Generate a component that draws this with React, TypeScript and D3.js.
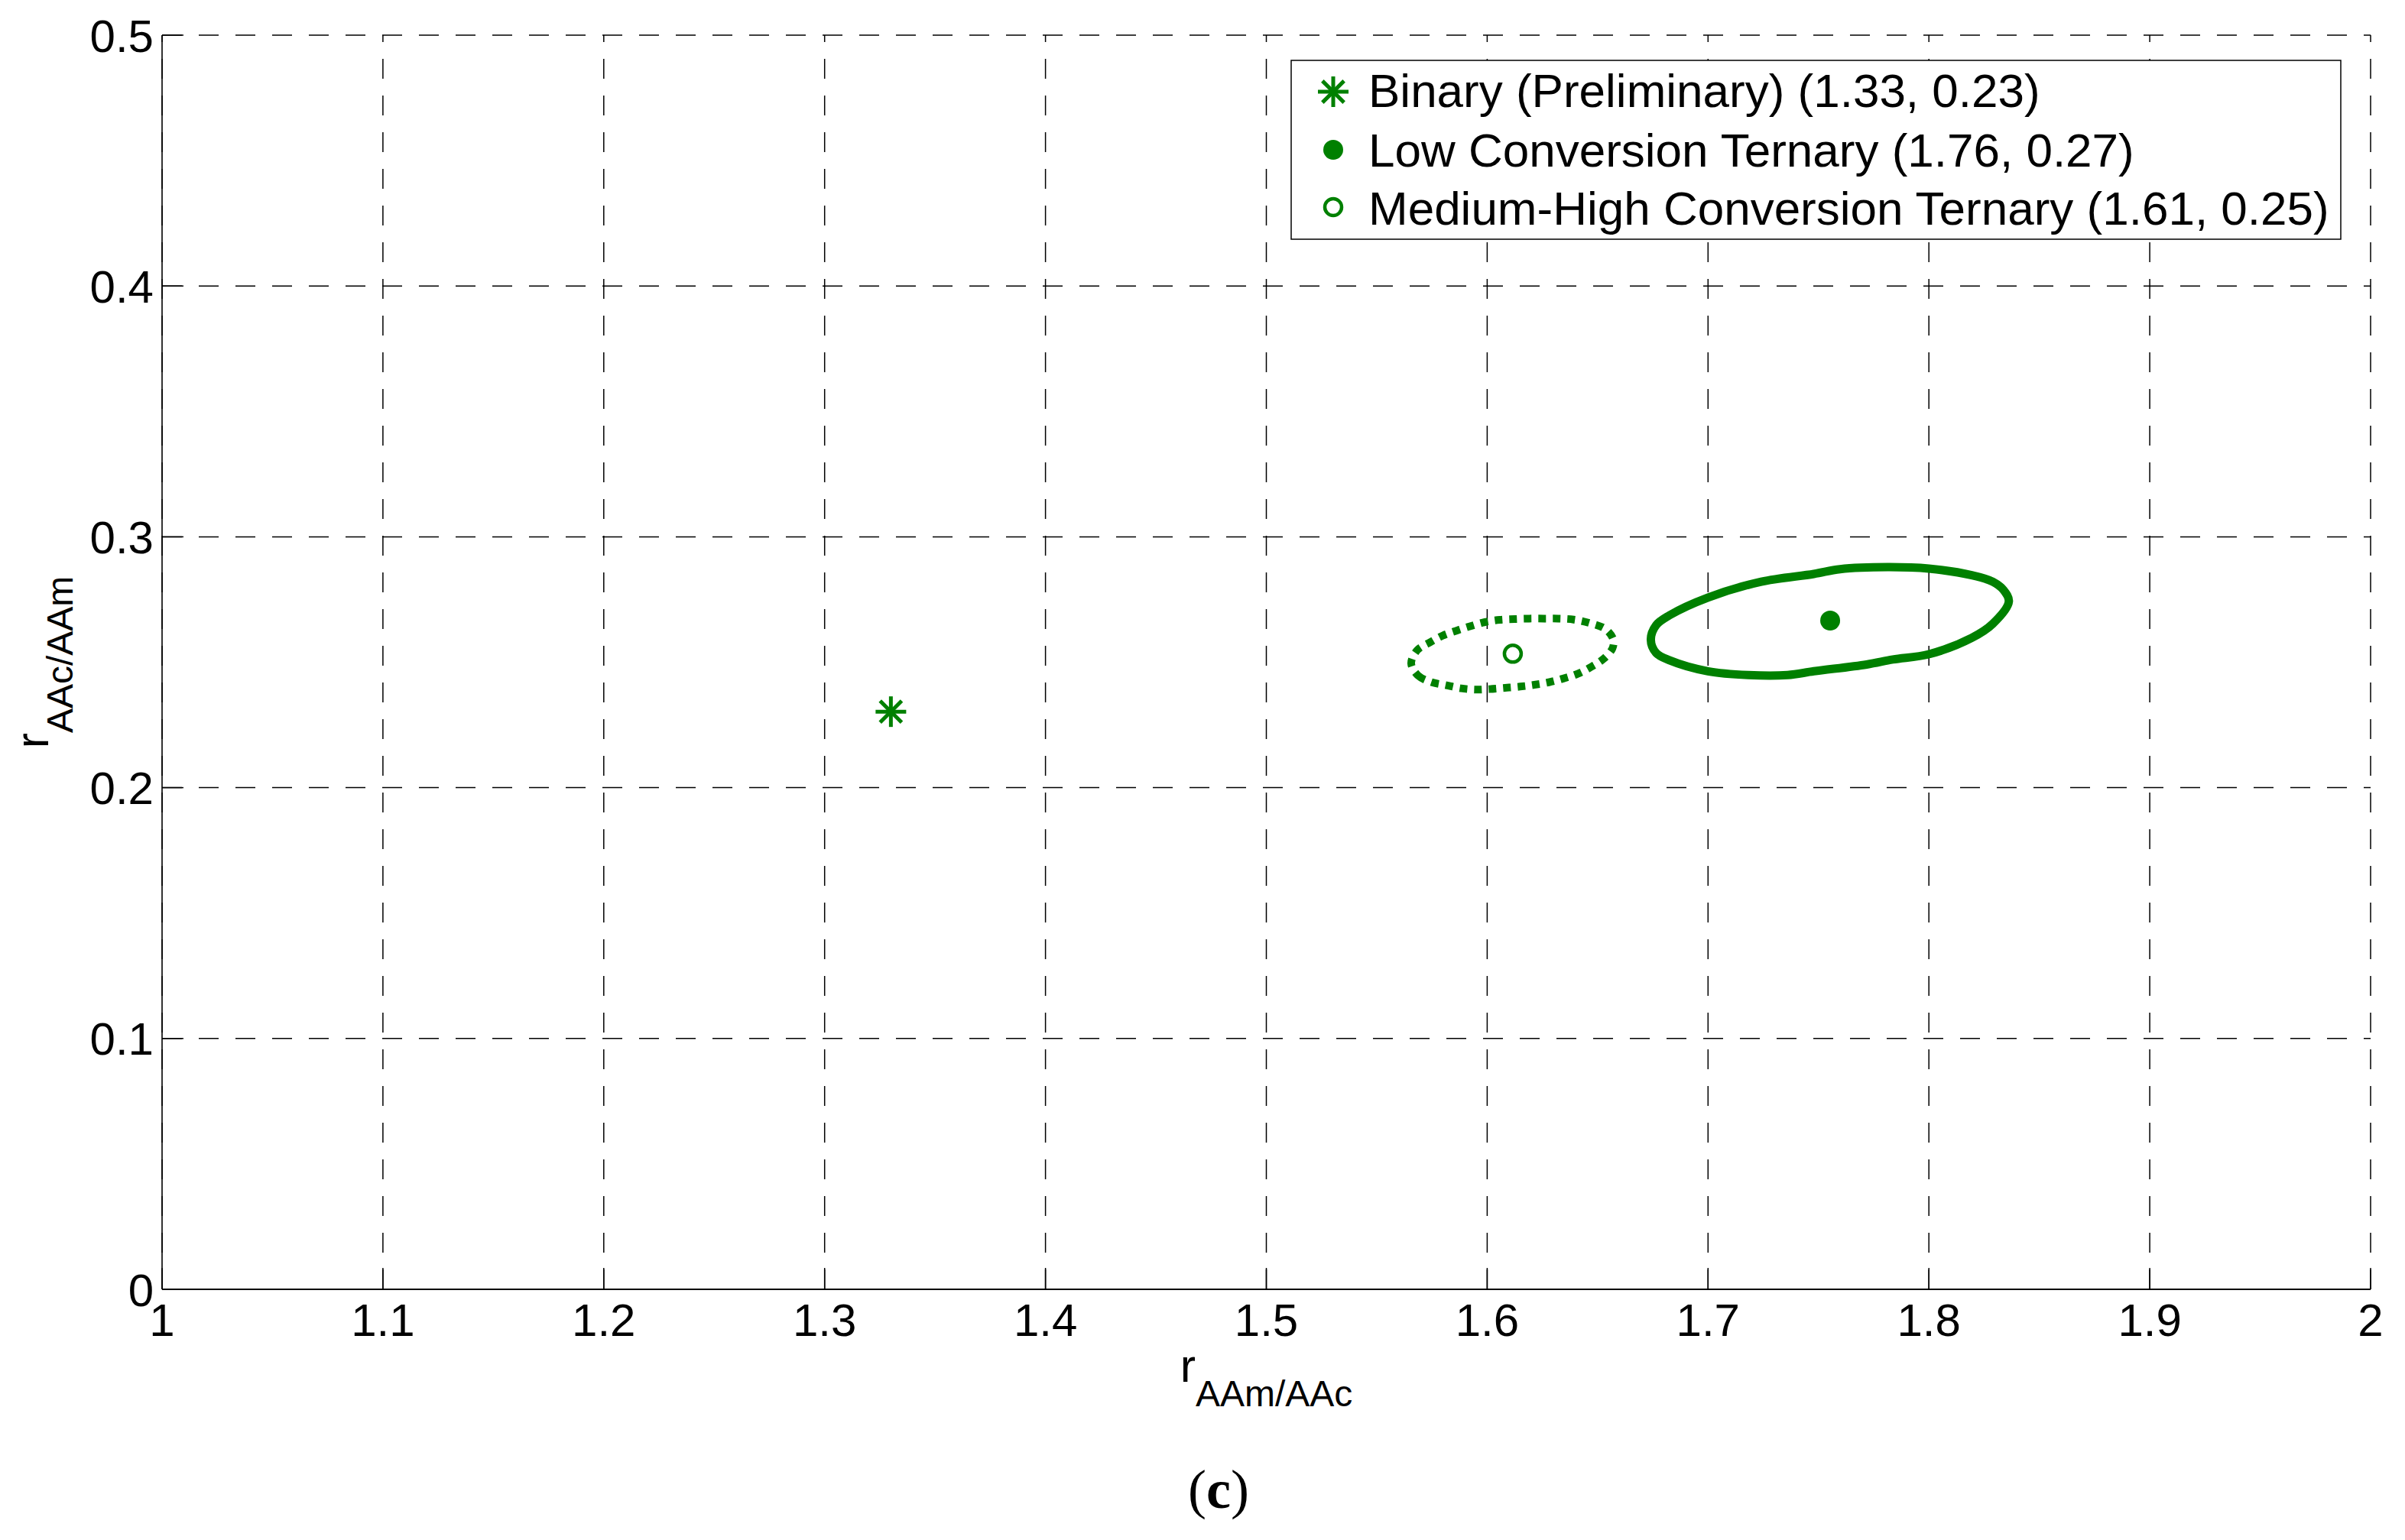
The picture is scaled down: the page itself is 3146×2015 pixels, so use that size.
import React from "react";
import * as d3 from "d3";

const W = 3146;
const H = 2015;

const xTicks = [1, 1.1, 1.2, 1.3, 1.4, 1.5, 1.6, 1.7, 1.8, 1.9, 2];
const xTickLabels = ["1", "1.1", "1.2", "1.3", "1.4", "1.5", "1.6", "1.7", "1.8", "1.9", "2"];
const yTicks = [0, 0.1, 0.2, 0.3, 0.4, 0.5];
const yTickLabels = ["0", "0.1", "0.2", "0.3", "0.4", "0.5"];

const binaryPoint: [number, number] = [1.33, 0.2303];
const lowPoint: [number, number] = [1.7553, 0.2666];
const medHighPoint: [number, number] = [1.6116, 0.2534];

// joint confidence region, low conversion ternary (solid)
const lowRegion: [number, number][] = [
  [1.6741, 0.259], [1.6765, 0.2537], [1.6825, 0.2508], [1.7, 0.2464],
  [1.7182, 0.2449], [1.736, 0.2449], [1.7479, 0.2464], [1.7718, 0.2491],
  [1.7837, 0.2511], [1.8, 0.2532], [1.8194, 0.2597], [1.8289, 0.2653],
  [1.8362, 0.2742], [1.8337, 0.2789], [1.8289, 0.2821], [1.8194, 0.2847],
  [1.8, 0.2873], [1.7813, 0.2879], [1.7598, 0.2871], [1.7479, 0.2852],
  [1.7241, 0.2821], [1.7, 0.2758], [1.6825, 0.2687], [1.6765, 0.2648],
];

// joint confidence region, medium-high conversion ternary (dotted)
const medHighRegion: [number, number][] = [
  [1.5656, 0.2495], [1.5688, 0.2446], [1.5746, 0.2421], [1.5815, 0.2408],
  [1.5882, 0.2396], [1.5948, 0.2391], [1.6011, 0.2393], [1.6081, 0.2398],
  [1.615, 0.2403], [1.6213, 0.241], [1.6279, 0.242], [1.6344, 0.2435],
  [1.641, 0.2454], [1.647, 0.2481], [1.6525, 0.2512], [1.6567, 0.2555],
  [1.6571, 0.2591], [1.6536, 0.2632], [1.6461, 0.2657], [1.6392, 0.267],
  [1.6323, 0.2674], [1.6259, 0.2674], [1.619, 0.2674], [1.6124, 0.2672],
  [1.6057, 0.2669], [1.599, 0.266], [1.5925, 0.2644], [1.5861, 0.2626],
  [1.5798, 0.2606], [1.574, 0.2579], [1.5683, 0.2548],
];

const legendLabels = [
  "Binary (Preliminary) (1.33, 0.23)",
  "Low Conversion Ternary (1.76, 0.27)",
  "Medium-High Conversion Ternary (1.61, 0.25)",
];

const GREEN = "#008000";
const SANS = "'Liberation Sans', Arial, Helvetica, sans-serif";
const SERIF = "'Liberation Serif', 'Times New Roman', serif";

const plot = { left: 212, right: 3101, top: 46, bottom: 1687 };

const Star = ({ cx, cy, r }: { cx: number; cy: number; r: number }) => {
  const d = r * Math.SQRT1_2;
  return (
    <g stroke={GREEN} strokeWidth={5} strokeLinecap="butt">
      <line x1={cx - r} y1={cy} x2={cx + r} y2={cy} />
      <line x1={cx} y1={cy - r} x2={cx} y2={cy + r} />
      <line x1={cx - d} y1={cy - d} x2={cx + d} y2={cy + d} />
      <line x1={cx - d} y1={cy + d} x2={cx + d} y2={cy - d} />
    </g>
  );
};

export default function App() {
  const x = d3.scaleLinear().domain([1, 2]).range([plot.left, plot.right]);
  const y = d3.scaleLinear().domain([0, 0.5]).range([plot.bottom, plot.top]);

  const contour = d3
    .line<[number, number]>()
    .x((p) => x(p[0]))
    .y((p) => y(p[1]))
    .curve(d3.curveCatmullRomClosed.alpha(0.5));

  const tickLen = 28;
  const legend = { left: 1689, right: 3062, top: 79, bottom: 313 };
  const rowBase = [140, 218, 294];
  const markerX = 1744;

  return (
    <svg
      width={W}
      height={H}
      viewBox={`0 0 ${W} ${H}`}
      style={{ position: "absolute", left: 0, top: 0, background: "#fff" }}
    >
      <rect x={0} y={0} width={W} height={H} fill="#fff" />

      {/* grid lines */}
      <g stroke="#000" strokeWidth={1.5} strokeDasharray="26,22" fill="none">
        {xTicks.map((t) => (
          <path key={"gx" + t} d={`M${x(t)},${plot.bottom}V${plot.top}`} />
        ))}
        {yTicks.map((t) => (
          <path key={"gy" + t} d={`M${plot.left},${y(t)}H${plot.right}`} />
        ))}
      </g>

      {/* ticks */}
      <g stroke="#000" strokeWidth={1.5}>
        {xTicks.map((t) => (
          <line key={"tx" + t} x1={x(t)} x2={x(t)} y1={plot.bottom} y2={plot.bottom - tickLen} />
        ))}
        {yTicks.map((t) => (
          <line key={"ty" + t} x1={plot.left} x2={plot.left + tickLen} y1={y(t)} y2={y(t)} />
        ))}
      </g>

      {/* axes */}
      <line x1={plot.left} x2={plot.left} y1={plot.top} y2={plot.bottom} stroke="#000" strokeWidth={1.6} />
      <line x1={plot.left} x2={plot.right} y1={plot.bottom} y2={plot.bottom} stroke="#000" strokeWidth={2} />

      {/* tick labels */}
      <g fontFamily={SANS} fontSize={60} fill="#000">
        {xTicks.map((t, i) => (
          <text key={"lx" + t} x={x(t)} y={1748} textAnchor="middle">
            {xTickLabels[i]}
          </text>
        ))}
        {yTicks.map((t, i) => (
          <text key={"ly" + t} x={201} y={y(t) + 21.5} textAnchor="end">
            {yTickLabels[i]}
          </text>
        ))}
      </g>

      {/* axis labels */}
      <text x={(plot.left + plot.right) / 2} y={1808} textAnchor="middle" fontFamily={SANS} fill="#000">
        <tspan fontSize={61}>r</tspan>
        <tspan fontSize={48} dy={32}>AAm/AAc</tspan>
      </text>
      <text
        transform={`translate(63, ${(plot.top + plot.bottom) / 2}) rotate(-90)`}
        textAnchor="middle"
        fontFamily={SANS}
        fill="#000"
      >
        <tspan fontSize={61}>r</tspan>
        <tspan fontSize={48} dy={32}>AAc/AAm</tspan>
      </text>

      {/* confidence regions */}
      <path d={contour(lowRegion) || ""} fill="none" stroke={GREEN} strokeWidth={11} />
      <path
        d={contour(medHighRegion) || ""}
        fill="none"
        stroke={GREEN}
        strokeWidth={10}
        strokeDasharray="10,9"
      />

      {/* points */}
      <Star cx={x(binaryPoint[0])} cy={y(binaryPoint[1])} r={20} />
      <circle cx={x(lowPoint[0])} cy={y(lowPoint[1])} r={13} fill={GREEN} />
      <circle cx={x(medHighPoint[0])} cy={y(medHighPoint[1])} r={11} fill="none" stroke={GREEN} strokeWidth={4.5} />

      {/* legend */}
      <rect
        x={legend.left}
        y={legend.top}
        width={legend.right - legend.left}
        height={legend.bottom - legend.top}
        fill="#fff"
        stroke="#000"
        strokeWidth={1.5}
      />
      <Star cx={markerX} cy={rowBase[0] - 20} r={20} />
      <circle cx={markerX} cy={rowBase[1] - 22} r={13} fill={GREEN} />
      <circle cx={markerX} cy={rowBase[2] - 23} r={11} fill="none" stroke={GREEN} strokeWidth={4.5} />
      <g fontFamily={SANS} fontSize={62} fill="#000">
        {legendLabels.map((l, i) => (
          <text key={l} x={1790} y={rowBase[i]}>
            {l}
          </text>
        ))}
      </g>

      {/* panel label */}
      <text x={1594} y={1973} textAnchor="middle" fontFamily={SERIF} fontSize={72} fill="#000">
        <tspan>(</tspan>
        <tspan fontWeight="bold">c</tspan>
        <tspan>)</tspan>
      </text>
    </svg>
  );
}
